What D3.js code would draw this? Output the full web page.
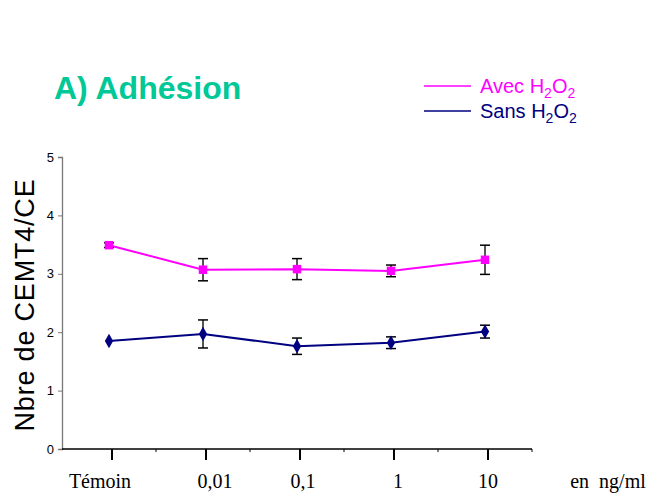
<!DOCTYPE html>
<html><head><meta charset="utf-8">
<script src="https://cdn.jsdelivr.net/npm/d3@7"></script>
<style>body{margin:0;background:#fff}svg{display:block}</style>
</head><body><svg id="c" width="652" height="498"></svg>
<script>
const categories = ["Témoin", "0,01", "0,1", "1", "10"];
const avecValues = [3.49, 3.07, 3.08, 3.05, 3.24];
const avecErrors = [0.04, 0.19, 0.18, 0.10, 0.25];
const sansValues = [1.85, 1.97, 1.76, 1.82, 2.01];
const sansErrors = [0.0, 0.24, 0.14, 0.10, 0.11];
const yTicks = [0, 1, 2, 3, 4, 5];

const svg = d3.select("#c");
const x = d3.scaleBand().domain(categories).range([62, 532]);
const y = d3.scaleLinear().domain([0, 5]).range([449, 157]);
const cx = d => x(d) + x.bandwidth() / 2;
const sans = "Arial, 'Liberation Sans', sans-serif";
const serif = "'Liberation Serif', 'Times New Roman', serif";

// y axis
const ya = svg.append("g").attr("transform", "translate(62,0)")
  .call(d3.axisLeft(y).tickValues(yTicks).tickSize(4).tickPadding(4).tickFormat(d3.format("d")));
ya.select(".domain").attr("stroke", "#777").attr("stroke-width", 1.3);
ya.selectAll(".tick line").attr("stroke", "#777");
ya.selectAll("text").attr("font-family", sans).attr("font-size", 13).attr("fill", "#000");

// x axis
const xg = svg.append("g").attr("transform", "translate(0,449)");
xg.append("line").attr("x1", 62).attr("x2", 532).attr("stroke", "#000").attr("stroke-width", 1.3);
const bounds = categories.map(c => x(c) + x.bandwidth());
xg.selectAll(".mt").data(bounds).join("line").attr("x1", d => d).attr("x2", d => d)
  .attr("y1", 0).attr("y2", 3).attr("stroke", "#000");
xg.selectAll(".bt").data(categories).join("line").attr("x1", d => cx(d) + 3).attr("x2", d => cx(d) + 3)
  .attr("y1", 0).attr("y2", 11).attr("stroke", "#000").attr("stroke-width", 2);
const labShift = {"Témoin": -9, "0,01": 12, "0,1": 6, "1": 7, "10": 3};
xg.selectAll(".lab").data(categories).join("text")
  .attr("x", d => cx(d) + labShift[d]).attr("y", 39)
  .attr("text-anchor", "middle").attr("font-family", serif)
  .attr("font-size", 20).text(d => d);
svg.append("text").attr("x", 608).attr("y", 488).attr("text-anchor", "middle")
  .attr("font-family", serif).attr("font-size", 20)
  .attr("xml:space", "preserve").text("en  ng/ml");

// y title
svg.append("text").attr("transform", "translate(34,305) rotate(-90)").attr("text-anchor", "middle")
  .attr("font-family", sans).attr("font-size", 27).attr("letter-spacing", 0.8).attr("fill", "#000")
  .text("Nbre de CEMT4/CE");

// title
svg.append("text").attr("x", 54).attr("y", 99).attr("font-family", sans)
  .attr("font-weight", "bold").attr("font-size", 32).attr("fill", "#00C896").text("A) Adhésion");

function series(vals, errs, color, shape) {
  const pts = categories.map((c, i) => ({c, v: vals[i], e: errs[i]}));
  const g = svg.append("g");
  g.append("path").datum(pts).attr("fill", "none").attr("stroke", color).attr("stroke-width", 2)
    .attr("d", d3.line().x(d => cx(d.c)).y(d => y(d.v)));
  pts.filter(p => p.e > 0).forEach(p => {
    const X = cx(p.c);
    g.append("line").attr("x1", X).attr("x2", X).attr("y1", y(p.v + p.e)).attr("y2", y(p.v - p.e))
      .attr("stroke", "#555").attr("stroke-width", 2);
    [p.v + p.e, p.v - p.e].forEach(v => g.append("line").attr("x1", X - 5).attr("x2", X + 5)
      .attr("y1", y(v)).attr("y2", y(v)).attr("stroke", "#000").attr("stroke-width", 1.5));
  });
  g.selectAll(".m").data(pts).join("path")
    .attr("transform", d => `translate(${cx(d.c)},${y(d.v)})`)
    .attr("d", d3.symbol().type(shape).size(shape === d3.symbolSquare ? 72 : 60))
    .attr("fill", color);
}
series(avecValues, avecErrors, "#FF00FF", d3.symbolSquare);
series(sansValues, sansErrors, "#000080", d3.symbolDiamond);

// legend
const leg = [{t: "Avec", c: "#FF00FF", y: 86}, {t: "Sans", c: "#000080", y: 111}];
leg.forEach(l => {
  svg.append("line").attr("x1", 424).attr("x2", 471).attr("y1", l.y).attr("y2", l.y)
    .attr("stroke", l.c).attr("stroke-width", 1.5);
  const t = svg.append("text").attr("x", 480).attr("y", l.y + 7).attr("font-family", sans)
    .attr("font-size", 20).attr("fill", l.c);
  t.append("tspan").text(l.t + " H");
  t.append("tspan").attr("font-size", 14).attr("dy", 5).text("2");
  t.append("tspan").attr("dy", -5).text("O");
  t.append("tspan").attr("font-size", 14).attr("dy", 5).text("2");
});
</script></body></html>
